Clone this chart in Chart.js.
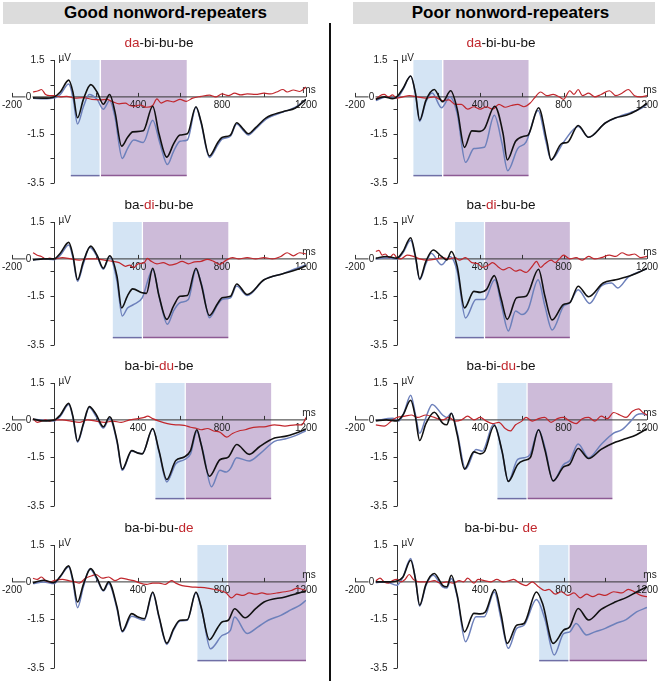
<!DOCTYPE html>
<html>
<head>
<meta charset="utf-8">
<script src="https://cdn.jsdelivr.net/npm/chart.js@4.4.1/dist/chart.umd.min.js"></script>
<style>
body { margin: 0; background: #fff; }
#fig { position: relative; width: 661px; height: 681px; overflow: hidden; font-family: "Liberation Sans", Arial, sans-serif; }
.head { position: absolute; top: 2px; height: 22px; line-height: 22px; background: #dcdcdc; font-weight: bold; font-size: 17px; text-align: center; color: #000; box-sizing: border-box; }
#divider { position: absolute; left: 329px; top: 23px; width: 2px; height: 658px; background: #111; }
canvas { position: absolute; }
</style>
</head>
<body>
<div id="fig">
  <div class="head" style="left:3px;width:305px;padding-left:20px">Good nonword-repeaters</div>
  <div class="head" style="left:353px;width:302px;padding-left:13px">Poor nonword-repeaters</div>
  <div id="divider"></div>
</div>
<script>
// ERP traces, [ms, µV]
const goodDaBlack = [[-100,-0.04],[-50,-0.05],[0,0],[30,0.2],[70,0.68],[90,0.2],[112,-0.85],[140,-0.1],[175,0.5],[205,0.2],[235,-0.3],[265,0.1],[290,-0.6],[322,-2.0],[350,-1.65],[375,-1.42],[425,-1.38],[470,-0.38],[500,-1.5],[537,-2.45],[570,-1.9],[600,-1.55],[635,-1.5],[676,-0.4],[700,-1.0],[740,-2.4],[780,-1.85],[800,-1.65],[840,-1.55],[870,-1.05],[900,-1.3],[925,-1.5],[960,-1.25],[1010,-0.85],[1090,-0.6],[1150,-0.45],[1200,-0.1]];
const goodDaBlue = [[-100,-0.05],[-50,-0.08],[0,-0.05],[30,0.1],[70,0.52],[90,0.0],[112,-1.1],[140,-0.4],[168,0.1],[205,-0.1],[235,-0.5],[265,-0.15],[290,-0.8],[325,-2.5],[350,-2.1],[380,-1.75],[425,-1.85],[470,-0.95],[505,-1.9],[540,-2.75],[570,-2.2],[600,-1.8],[635,-1.75],[676,-0.42],[700,-1.05],[740,-2.46],[780,-1.95],[800,-1.72],[840,-1.6],[870,-1.1],[900,-1.35],[925,-1.55],[960,-1.3],[1010,-0.9],[1090,-0.62],[1150,-0.42],[1200,-0.1]];
const goodDaRed = [[-100,0.2],[-75,0.25],[-60,0.3],[-40,0.1],[-20,0.05],[0,0.05],[30,0.0],[60,0.02],[100,-0.05],[140,-0.03],[180,-0.1],[220,-0.12],[250,-0.1],[280,-0.2],[310,-0.28],[340,-0.25],[360,-0.35],[380,-0.38],[410,-0.33],[440,-0.42],[470,-0.35],[490,-0.08],[510,-0.25],[540,-0.15],[570,-0.2],[600,-0.1],[630,-0.18],[660,-0.05],[700,0.02],[740,0.07],[770,0.0],[800,0.12],[830,0.05],[860,0.15],[890,0.08],[920,0.12],[960,0.1],[1000,0.15],[1030,0.12],[1060,0.2],[1090,0.3],[1110,0.2],[1140,0.28],[1170,0.22],[1200,0.4]];

const poorDaBlack = [[-100,-0.1],[-60,0.0],[-20,-0.07],[0,0.0],[30,0.34],[67,0.85],[90,0.14],[110,-0.95],[140,-0.14],[180,0.3],[220,-0.2],[259,0.25],[290,-0.5],[325,-2.05],[360,-1.38],[400,-1.4],[420,-1.3],[470,-0.38],[510,-1.5],[530,-2.56],[570,-1.8],[610,-1.6],[630,-1.55],[680,-0.44],[720,-1.8],[740,-2.56],[790,-1.9],[820,-1.84],[870,-1.16],[920,-1.64],[1000,-1.06],[1050,-0.85],[1100,-0.75],[1150,-0.55],[1200,-0.27]];
const poorDaBlue = [[-100,-0.15],[-50,0.0],[0,-0.05],[30,0.3],[67,0.85],[90,0.1],[110,-1.0],[140,-0.2],[170,0.16],[215,-0.44],[255,0.0],[290,-0.68],[330,-2.66],[370,-2.1],[420,-2.05],[468,-0.75],[505,-1.9],[532,-3.0],[580,-2.1],[620,-1.84],[678,-0.55],[715,-1.8],[740,-2.56],[800,-1.84],[870,-1.2],[920,-1.64],[1000,-1.06],[1060,-0.82],[1120,-0.64],[1170,-0.48],[1200,-0.3]];
const poorDaRed = [[-100,-0.1],[-80,0.05],[-60,0.1],[-40,0.0],[-20,0.08],[0,-0.05],[30,0.0],[60,0.05],[100,0.0],[140,-0.05],[180,0.0],[220,-0.15],[250,-0.12],[280,-0.3],[310,-0.3],[340,-0.5],[370,-0.4],[400,-0.5],[430,-0.4],[460,-0.5],[490,-0.3],[520,-0.42],[550,-0.35],[580,-0.3],[610,-0.4],[640,-0.25],[660,-0.05],[690,0.2],[720,0.05],[750,0.1],[780,0.0],[800,-0.1],[830,0.25],[850,0.1],[870,0.3],[890,0.05],[920,0.15],[950,0.0],[980,0.1],[1020,0.25],[1050,0.05],[1080,0.15],[1110,0.3],[1140,0.05],[1170,0.0],[1200,0.05]];

const goodDiBlack = [[-100,-0.04],[-50,0.0],[0,0.0],[30,0.23],[70,0.67],[90,0.15],[112,-0.85],[140,-0.1],[175,0.52],[205,0.15],[235,-0.38],[265,0.13],[300,-0.71],[322,-1.99],[350,-1.5],[375,-1.22],[420,-1.38],[440,-1.4],[470,-0.38],[500,-1.5],[537,-2.46],[570,-1.9],[600,-1.52],[635,-1.49],[676,-0.38],[700,-1.0],[740,-2.3],[780,-1.8],[800,-1.58],[840,-1.52],[870,-1.02],[920,-1.45],[1000,-0.85],[1090,-0.6],[1150,-0.45],[1200,-0.28]];
const goodDiBlue = [[-100,-0.04],[-50,0.0],[0,-0.03],[30,0.15],[70,0.56],[90,0.05],[112,-0.91],[140,-0.2],[170,0.47],[205,0.1],[235,-0.42],[265,0.1],[300,-0.9],[325,-2.32],[350,-2.0],[380,-1.85],[420,-1.58],[470,-0.44],[505,-1.7],[540,-2.66],[570,-2.1],[600,-1.78],[640,-1.65],[676,-0.44],[705,-1.1],[740,-2.39],[780,-1.85],[800,-1.65],[840,-1.58],[870,-1.1],[920,-1.49],[1000,-0.85],[1090,-0.6],[1150,-0.4],[1200,-0.24]];
const goodDiRed = [[-100,0.25],[-80,0.15],[-60,0.1],[-40,0.0],[-20,0.03],[0,0.0],[40,0.05],[80,0.0],[120,-0.05],[160,0.0],[200,0.0],[240,-0.05],[280,-0.1],[310,-0.15],[340,-0.3],[360,-0.25],[380,-0.35],[400,-0.2],[430,-0.15],[445,0.02],[460,-0.08],[490,-0.2],[520,-0.15],[550,-0.25],[580,-0.2],[610,-0.1],[640,-0.2],[670,-0.12],[700,-0.1],[730,-0.02],[760,-0.1],[790,-0.22],[820,-0.05],[850,0.05],[880,0.0],[920,0.05],[960,0.0],[1000,0.05],[1040,0.0],[1080,0.1],[1110,0.25],[1140,0.12],[1170,0.25],[1200,0.2]];

const poorDiBlack = [[-100,0.03],[-50,0.1],[0,0.03],[30,0.3],[67,0.86],[90,0.1],[110,-0.82],[140,-0.1],[175,0.36],[215,0.1],[240,-0.04],[262,0.3],[290,-0.31],[325,-1.99],[370,-1.32],[400,-1.36],[430,-1.25],[468,-0.68],[500,-1.6],[530,-2.46],[575,-1.58],[620,-1.52],[680,-0.42],[710,-1.5],[745,-2.48],[800,-1.85],[830,-1.78],[870,-1.11],[920,-1.54],[990,-0.98],[1050,-0.85],[1100,-0.74],[1150,-0.58],[1200,-0.38]];
const poorDiBlue = [[-100,0.0],[-50,0.05],[0,0.0],[30,0.25],[67,0.76],[90,0.05],[110,-0.85],[140,-0.2],[165,0.23],[215,-0.24],[255,0.1],[290,-0.5],[330,-2.4],[380,-1.65],[420,-1.65],[470,-0.85],[505,-2.0],[535,-2.93],[570,-2.12],[600,-2.26],[630,-2.05],[678,-0.85],[710,-1.9],[745,-2.89],[800,-1.92],[830,-1.78],[870,-1.25],[925,-1.81],[980,-1.11],[1030,-0.98],[1060,-1.18],[1110,-0.74],[1200,-0.4]];
const poorDiRed = [[-100,0.3],[-85,0.35],[-70,0.15],[-55,0.2],[-35,0.05],[-15,0.2],[0,0.05],[20,0.0],[50,0.15],[80,0.1],[110,0.0],[150,-0.05],[190,0.0],[220,0.05],[250,0.0],[280,0.05],[300,-0.05],[330,0.05],[360,-0.15],[390,-0.2],[410,-0.35],[440,-0.25],[460,-0.15],[490,-0.35],[510,-0.45],[540,-0.35],[570,-0.5],[590,-0.45],[620,-0.55],[650,-0.3],[670,-0.1],[690,-0.35],[710,-0.2],[740,-0.05],[760,-0.15],[780,0.0],[800,0.15],[830,0.0],[860,0.05],[890,-0.05],[920,0.1],[950,0.0],[980,0.05],[1020,0.15],[1050,0.1],[1080,0.25],[1110,0.15],[1140,0.2],[1170,0.05],[1200,0.1]];

const goodDuBlack = [[-100,0.03],[-50,-0.04],[0,-0.01],[30,0.2],[70,0.67],[90,0.15],[112,-0.87],[140,-0.15],[168,0.54],[200,0.23],[235,-0.28],[265,0.13],[300,-0.84],[325,-2.0],[370,-1.25],[400,-1.35],[420,-1.38],[470,-0.35],[500,-1.25],[537,-2.42],[580,-1.65],[620,-1.51],[650,-1.25],[680,-0.4],[700,-0.98],[740,-2.29],[790,-1.62],[830,-1.51],[870,-1.0],[930,-1.4],[980,-1.08],[1050,-0.74],[1100,-0.67],[1150,-0.54],[1200,-0.37]];
const goodDuBlue = [[-100,0.03],[-50,-0.01],[0,-0.04],[30,0.15],[70,0.63],[90,0.1],[112,-0.91],[140,-0.2],[168,0.5],[200,0.15],[235,-0.33],[265,0.07],[300,-0.9],[325,-2.05],[370,-1.27],[420,-1.38],[470,-0.37],[500,-1.3],[537,-2.52],[580,-1.78],[620,-1.62],[650,-1.38],[680,-0.47],[710,-1.3],[750,-2.72],[790,-2.05],[820,-2.12],[840,-1.98],[870,-1.54],[930,-1.67],[980,-1.38],[1050,-0.87],[1100,-0.78],[1150,-0.64],[1200,-0.44]];
const goodDuRed = [[-100,0.05],[-80,-0.1],[-60,-0.05],[-40,0.0],[-20,-0.05],[0,0.0],[40,0.0],[80,-0.05],[120,-0.1],[160,0.0],[200,-0.05],[240,-0.1],[280,-0.05],[320,-0.1],[360,0.0],[400,0.05],[430,0.1],[445,0.15],[470,0.05],[500,-0.05],[540,-0.15],[580,-0.2],[620,-0.22],[650,-0.3],[680,-0.35],[700,-0.4],[730,-0.35],[760,-0.45],[790,-0.5],[822,-0.7],[850,-0.55],[880,-0.45],[910,-0.4],[950,-0.3],[1000,-0.28],[1050,-0.2],[1100,-0.25],[1150,-0.2],[1180,-0.2],[1200,0.1]];

const poorDuBlack = [[-100,-0.03],[-50,0.0],[0,-0.04],[30,0.2],[67,0.8],[90,0.1],[110,-0.84],[140,-0.15],[180,0.31],[220,-0.13],[240,-0.2],[262,0.27],[290,-0.6],[325,-2.0],[370,-1.3],[400,-1.38],[420,-1.3],[468,-0.23],[505,-1.27],[535,-2.5],[580,-1.81],[610,-1.65],[640,-1.54],[680,-0.4],[710,-1.2],[750,-2.48],[800,-1.91],[830,-1.8],[870,-1.16],[920,-1.57],[980,-1.2],[1050,-0.9],[1100,-0.76],[1150,-0.6],[1200,-0.36]];
const poorDuBlue = [[-100,-0.03],[-20,0.07],[10,-0.04],[35,0.3],[67,1.0],[90,0.2],[110,-0.54],[140,0.1],[170,0.63],[220,0.2],[240,0.1],[262,0.27],[290,-0.5],[330,-2.0],[380,-1.2],[410,-1.27],[465,-0.17],[505,-1.3],[535,-2.5],[580,-1.6],[610,-1.54],[640,-1.4],[680,-0.4],[710,-1.1],[750,-2.48],[800,-1.81],[830,-1.65],[870,-0.98],[920,-1.54],[980,-1.0],[1040,-0.54],[1080,-0.4],[1120,-0.07],[1150,0.2],[1175,0.25],[1200,0.2]];
const poorDuRed = [[-100,-0.2],[-60,-0.25],[-20,0.0],[0,0.1],[40,0.15],[70,0.2],[100,0.1],[140,0.2],[180,0.1],[220,0.0],[250,0.1],[280,-0.05],[310,0.0],[340,0.15],[370,0.0],[400,0.1],[430,-0.05],[460,-0.15],[490,-0.1],[520,-0.35],[545,-0.45],[570,-0.2],[600,-0.05],[620,0.1],[650,-0.05],[680,0.05],[710,0.1],[740,-0.1],[770,0.05],[800,0.1],[830,-0.05],[860,-0.15],[890,0.05],[920,0.1],[950,-0.05],[980,0.15],[1010,0.05],[1040,0.3],[1070,0.2],[1100,0.1],[1130,0.35],[1160,0.45],[1180,0.3],[1200,0.2]];

const goodDeBlack = [[-100,-0.04],[-50,0.07],[0,-0.03],[30,0.23],[70,0.65],[90,0.1],[112,-0.82],[140,-0.1],[175,0.54],[205,0.15],[235,-0.34],[260,0.0],[300,-1.02],[325,-2.0],[370,-1.29],[400,-1.43],[430,-1.5],[470,-0.41],[500,-1.4],[537,-2.49],[570,-1.9],[600,-1.56],[635,-1.54],[676,-0.41],[700,-1.0],[740,-2.35],[780,-1.85],[800,-1.63],[830,-1.56],[860,-1.09],[910,-1.46],[960,-1.09],[1000,-0.82],[1100,-0.61],[1200,-0.37]];
const goodDeBlue = [[-100,-0.07],[-50,0.0],[0,-0.07],[30,0.2],[70,0.61],[90,0.0],[112,-1.05],[140,-0.2],[170,0.52],[205,0.1],[235,-0.37],[260,-0.07],[300,-1.1],[325,-2.04],[370,-1.4],[430,-1.56],[470,-0.45],[500,-1.45],[537,-2.54],[570,-1.95],[600,-1.59],[635,-1.56],[676,-0.45],[705,-1.2],[745,-2.72],[800,-2.18],[840,-1.97],[860,-1.43],[920,-2.1],[970,-1.84],[1020,-1.56],[1080,-1.36],[1130,-1.13],[1170,-0.95],[1200,-0.75]];
const goodDeRed = [[-100,0.15],[-80,0.1],[-60,0.2],[-40,0.05],[-20,0.0],[0,0.05],[40,0.1],[70,0.05],[100,0.0],[120,-0.05],[150,0.15],[180,0.25],[200,0.3],[230,0.15],[260,0.2],[290,0.05],[320,0.15],[350,0.1],[380,0.05],[410,-0.05],[440,-0.1],[470,-0.05],[500,-0.05],[530,-0.1],[560,0.05],[580,-0.05],[610,-0.15],[650,-0.2],[690,-0.22],[730,-0.25],[760,-0.3],[790,-0.35],[820,-0.45],[845,-0.65],[870,-0.5],[900,-0.55],[930,-0.45],[960,-0.5],[990,-0.45],[1020,-0.5],[1060,-0.45],[1100,-0.4],[1130,-0.35],[1160,-0.25],[1180,-0.3],[1200,-0.35]];

const poorDeBlack = [[-100,0.0],[-50,0.0],[0,0.04],[30,0.2],[67,0.88],[90,0.1],[110,-0.95],[140,-0.1],[180,0.34],[220,-0.14],[240,-0.2],[262,0.27],[290,-0.54],[325,-2.03],[370,-1.28],[400,-1.3],[425,-1.22],[470,-0.31],[500,-1.3],[530,-2.5],[575,-1.76],[610,-1.69],[670,-0.41],[700,-0.9],[750,-2.5],[800,-1.96],[830,-1.82],[870,-1.08],[920,-1.55],[980,-1.12],[1050,-0.81],[1100,-0.64],[1150,-0.41],[1200,-0.2]];
const poorDeBlue = [[-100,-0.03],[-50,0.0],[0,-0.14],[30,0.2],[67,0.95],[90,0.1],[110,-0.99],[140,-0.15],[175,0.27],[220,-0.2],[240,-0.25],[262,0.14],[290,-0.6],[330,-2.43],[380,-1.42],[420,-1.42],[468,-0.41],[500,-1.5],[535,-2.7],[575,-1.89],[610,-1.76],[670,-0.72],[710,-1.5],[755,-2.97],[800,-2.1],[830,-2.03],[860,-1.69],[910,-2.16],[950,-2.03],[1000,-1.89],[1050,-1.69],[1100,-1.53],[1150,-1.22],[1200,-1.04]];
const poorDeRed = [[-100,0.05],[-80,0.15],[-60,0.0],[-40,-0.05],[-20,0.05],[0,0.1],[20,0.0],[40,0.1],[60,0.3],[80,0.1],[110,0.0],[150,0.0],[180,0.05],[210,-0.05],[240,0.0],[270,-0.05],[300,0.05],[320,0.0],[340,0.15],[370,-0.05],[390,0.1],[420,0.05],[450,0.0],[480,0.1],[510,0.0],[540,0.05],[560,0.1],[590,-0.05],[620,-0.15],[650,0.0],[680,-0.2],[710,-0.35],[730,-0.3],[760,-0.5],[790,-0.4],[820,-0.55],[850,-0.45],[880,-0.65],[910,-0.5],[940,-0.6],[970,-0.5],[1000,-0.55],[1040,-0.4],[1080,-0.45],[1110,-0.3],[1140,-0.4],[1170,-0.55],[1200,-0.6]];

// panel titles: [before, highlighted syllable, after]
const goodTitles = [['', 'da', '-bi-bu-be'], ['ba-', 'di', '-bu-be'], ['ba-bi-', 'du', '-be'], ['ba-bi-bu-', 'de', '']];
const poorTitles = [['', 'da', '-bi-bu-be'], ['ba-', 'di', '-bu-be'], ['ba-bi-', 'du', '-be'], ['ba-bi-bu- ', 'de', '']];

// analysis windows (ms) per syllable row
const earlyStart = [80, 280, 483, 683];
const earlyEnd = [217, 418, 622, 823];
const lateStart = [224, 424, 628, 829];
const lateEnd = [632, 830, 1034, 1200];

// axis ticks
const xTicks = [-200, 0, 200, 400, 600, 800, 1000, 1200];
const xLabels = [-200, 400, 800, 1200];
const yTicks = [1.5, 0.5, -0.5, -1.5, -2.5, -3.5];
const yLabels = [1.5, -1.5, -3.5];

const panelTops = [60, 222, 383, 545];
const plotHeight = 123;
const boxBottom = -3.2;

const font = '"Liberation Sans", Arial, sans-serif';
const red = '#c1272d';
const axisColor = '#333';

const erpPlugin = {
    id: 'erp',
    beforeDatasetsDraw(chart, args, opts) {
        const {ctx, scales: {x, y}} = chart;
        const row = opts.row;
        ctx.save();

        // shaded windows
        const yTop = y.getPixelForValue(1.5);
        const yBot = y.getPixelForValue(boxBottom);
        const box = (a, b, fill, edge) => {
            const x1 = x.getPixelForValue(a), x2 = x.getPixelForValue(b);
            ctx.fillStyle = fill;
            ctx.fillRect(x1, yTop, x2 - x1, yBot - yTop);
            ctx.strokeStyle = edge;
            ctx.lineWidth = 1.5;
            ctx.beginPath();
            ctx.moveTo(x1, yBot);
            ctx.lineTo(x2, yBot);
            ctx.stroke();
        };
        box(earlyStart[row], earlyEnd[row], 'rgb(212,228,244)', '#6f6fa6');
        box(lateStart[row], lateEnd[row], 'rgb(205,187,217)', '#8d5a94');

        // axes
        const x0 = x.getPixelForValue(0);
        const yz = y.getPixelForValue(0);
        ctx.strokeStyle = axisColor;
        ctx.lineWidth = 1;
        ctx.beginPath();
        ctx.moveTo(x.getPixelForValue(-200), yz);
        ctx.lineTo(x.getPixelForValue(1200), yz);
        xTicks.forEach(t => {
            const px = Math.round(x.getPixelForValue(t)) + 0.5;
            ctx.moveTo(px, yz);
            ctx.lineTo(px, yz - 4);
        });
        const ax = Math.round(x0) + 0.5;
        ctx.moveTo(ax, y.getPixelForValue(1.5));
        ctx.lineTo(ax, y.getPixelForValue(-3.5));
        yTicks.forEach(v => {
            const py = Math.round(y.getPixelForValue(v)) + 0.5;
            ctx.moveTo(ax - 4, py);
            ctx.lineTo(ax, py);
        });
        ctx.stroke();

        ctx.fillStyle = '#222';
        ctx.font = '10px ' + font;
        ctx.textBaseline = 'middle';
        ctx.textAlign = 'center';
        xLabels.forEach(t => ctx.fillText(String(t), x.getPixelForValue(t), yz + 8));
        ctx.fillText('ms', x.getPixelForValue(1200) + 3, yz - 7);
        ctx.textAlign = 'right';
        yLabels.forEach(v => ctx.fillText(String(v), ax - 10, y.getPixelForValue(v)));
        // zero label sits on the x axis line
        const zx = ax - 26;
        ctx.fillStyle = '#fff';
        ctx.fillRect(zx - 3, yz - 4, 7, 8);
        ctx.fillStyle = '#222';
        ctx.textAlign = 'center';
        ctx.fillText('0', zx, yz);
        ctx.textAlign = 'left';
        ctx.fillText('µV', ax + 4, y.getPixelForValue(1.5) - 1.5);

        ctx.restore();
    },
    afterDraw(chart, args, opts) {
        const {ctx, scales: {x, y}} = chart;
        const parts = opts.title;
        ctx.save();
        ctx.font = '13.5px ' + font;
        ctx.textBaseline = 'middle';
        ctx.textAlign = 'left';
        const widths = parts.map(s => ctx.measureText(s).width);
        let px = x.getPixelForValue(500) - (widths[0] + widths[1] + widths[2]) / 2;
        const py = y.getPixelForValue(1.5) - 16.5;
        parts.forEach((s, i) => {
            ctx.fillStyle = i === 1 ? red : '#111';
            ctx.fillText(s, px, py);
            px += widths[i];
        });
        ctx.restore();
    }
};

function createPanel(col, row, black, blue, diff, title) {
    const canvas = document.createElement('canvas');
    const left = col === 0 ? 0 : 332;
    canvas.width = 329;
    canvas.height = 159;
    canvas.style.left = left + 'px';
    canvas.style.top = (panelTops[row] - 28) + 'px';
    document.getElementById('fig').appendChild(canvas);

    const line = (data, color, width, order) => ({
        data: data,
        borderColor: color,
        borderWidth: width,
        pointRadius: 0,
        cubicInterpolationMode: 'monotone',
        fill: false,
        order: order
    });

    return new Chart(canvas, {
        type: 'line',
        data: {
            datasets: [
                line(black, '#111', 1.6, 0),
                line(diff, red, 1.2, 1),
                line(blue, '#6d80bb', 1.5, 2)
            ]
        },
        options: {
            responsive: false,
            animation: false,
            devicePixelRatio: 1,
            layout: {
                padding: {
                    left: col === 0 ? 12 : 23,
                    right: col === 0 ? 23 : 14,
                    top: 28,
                    bottom: 159 - 28 - plotHeight
                }
            },
            scales: {
                x: {type: 'linear', min: -200, max: 1200, display: false},
                y: {type: 'linear', min: -3.5, max: 1.5, display: false}
            },
            plugins: {
                legend: {display: false},
                tooltip: {enabled: false},
                erp: {row: row, title: title}
            }
        },
        plugins: [erpPlugin]
    });
}

const goodPanels = [[goodDaBlack, goodDaBlue, goodDaRed], [goodDiBlack, goodDiBlue, goodDiRed], [goodDuBlack, goodDuBlue, goodDuRed], [goodDeBlack, goodDeBlue, goodDeRed]];
const poorPanels = [[poorDaBlack, poorDaBlue, poorDaRed], [poorDiBlack, poorDiBlue, poorDiRed], [poorDuBlack, poorDuBlue, poorDuRed], [poorDeBlack, poorDeBlue, poorDeRed]];

goodPanels.forEach((p, r) => createPanel(0, r, p[0], p[1], p[2], goodTitles[r]));
poorPanels.forEach((p, r) => createPanel(1, r, p[0], p[1], p[2], poorTitles[r]));
</script>
</body>
</html>
